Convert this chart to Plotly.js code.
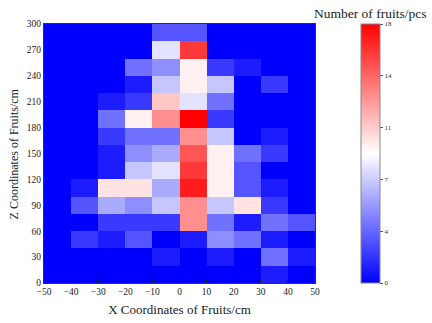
<!DOCTYPE html>
<html>
<head>
<meta charset="utf-8">
<script src="https://cdn.plot.ly/plotly-3.0.1.min.js"></script>
<style>html,body{margin:0;padding:0;background:#fff;}#chart{width:432px;height:323px;}</style>
</head>
<body>
<div id="chart"></div>
<script>
// Cell centres (cm)
const xCenters = [-45, -35, -25, -15, -5, 5, 15, 25, 35, 45];
const zCenters = [10, 30, 50, 70, 90, 110, 130, 150, 170, 190, 210, 230, 250, 270, 290];
// Number of fruits per cell, rows from bottom (z 0-20) to top (z 280-300)
const row0  = [0, 0, 0, 0, 0, 0, 0, 0, 1, 0];
const row1  = [0, 0, 0, 0, 1, 0, 1, 0, 4, 1];
const row2  = [0, 2, 1, 3, 0, 1, 5, 4, 1, 0];
const row3  = [0, 0, 2, 2, 2, 13, 4, 1, 4, 3];
const row4  = [0, 3, 6, 5, 7, 13, 7, 10, 2, 0];
const row5  = [0, 1, 10, 10, 6, 17, 9.5, 3, 1, 0];
const row6  = [0, 0, 1, 7, 8, 16, 9.5, 3, 0, 0];
const row7  = [0, 0, 1, 5, 6, 15, 9.5, 4, 2, 0];
const row8  = [0, 0, 2, 4, 4, 13, 7, 0, 1, 0];
const row9  = [0, 0, 4, 9.5, 13, 18, 2, 0, 0, 0];
const row10 = [0, 0, 1, 2, 11, 8, 4, 0, 0, 0];
const row11 = [0, 0, 0, 1, 7, 9.5, 7, 0, 2, 0];
const row12 = [0, 0, 0, 4, 5, 9.5, 2, 1, 0, 0];
const row13 = [0, 0, 0, 0, 8, 16, 0, 0, 0, 0];
const row14 = [0, 0, 0, 0, 3, 3, 0, 0, 0, 0];
const counts = [row0, row1, row2, row3, row4, row5, row6, row7, row8, row9, row10, row11, row12, row13, row14];

const xTickVals = [-50, -40, -30, -20, -10, 0, 10, 20, 30, 40, 50];
const zTickVals = [0, 30, 60, 90, 120, 150, 180, 210, 240, 270, 300];
const cbTickVals = [0, 3.6, 7.2, 10.8, 14.4, 18];
const cbTickText = ['0', '4', '7', '11', '14', '18'];

const serif = 'Liberation Serif, Times New Roman, serif';

const trace = {
  type: 'heatmap',
  x: xCenters,
  y: zCenters,
  z: counts,
  zmin: 0,
  zmax: 18,
  colorscale: [[0, 'rgb(0,0,255)'], [0.5, 'rgb(255,255,255)'], [1, 'rgb(255,0,0)']],
  xgap: 0, ygap: 0,
  hoverinfo: 'x+y+z',
  colorbar: {
    x: 1.17, xanchor: 'left', xref: 'paper',
    y: 0.5, yanchor: 'middle', len: 1, lenmode: 'fraction',
    thickness: 19, xpad: 0, ypad: 0,
    outlinewidth: 1, outlinecolor: '#888',
    tickmode: 'array', tickvals: cbTickVals, ticktext: cbTickText,
    ticks: 'outside', ticklen: 3, tickcolor: '#555',
    tickfont: {family: serif, size: 7, color: '#333'}
  }
};

const layout = {
  width: 432, height: 323,
  margin: {l: 44, r: 117, t: 24, b: 40, pad: 0, autoexpand: false},
  paper_bgcolor: '#fff', plot_bgcolor: '#fff',
  font: {family: serif, color: '#222'},
  xaxis: {
    range: [-50, 50], tickmode: 'array', tickvals: xTickVals,
    ticks: 'inside', ticklen: 4, tickcolor: '#222',
    showline: true, linecolor: '#333', linewidth: 1, mirror: true,
    showgrid: false, zeroline: false,
    tickfont: {family: serif, size: 9.5, color: '#222'},
    title: {text: 'X Coordinates of Fruits/cm', font: {family: serif, size: 13, color: '#222'}, standoff: 8}
  },
  yaxis: {
    range: [0, 300], tickmode: 'array', tickvals: zTickVals,
    ticks: 'inside', ticklen: 4, tickcolor: '#222',
    showline: true, linecolor: '#333', linewidth: 1, mirror: true,
    showgrid: false, zeroline: false,
    ticksuffix: '\u00a0',
    tickfont: {family: serif, size: 9.5, color: '#222'}
  },
  annotations: [{
    text: 'Number of fruits/pcs', xref: 'paper', yref: 'paper',
    x: 1.203, y: 1, xanchor: 'center', yanchor: 'bottom', yshift: 1,
    showarrow: false, font: {family: serif, size: 13.5, color: '#222'}
  }, {
    text: 'Z Coordinates of Fruits/cm', xref: 'paper', yref: 'paper',
    x: -0.111, y: 0.5, xanchor: 'center', yanchor: 'middle', textangle: -90,
    showarrow: false, font: {family: serif, size: 12, color: '#222'}
  }]
};

Plotly.newPlot('chart', [trace], layout, {displayModeBar: false, staticPlot: true});
</script>
</body>
</html>
